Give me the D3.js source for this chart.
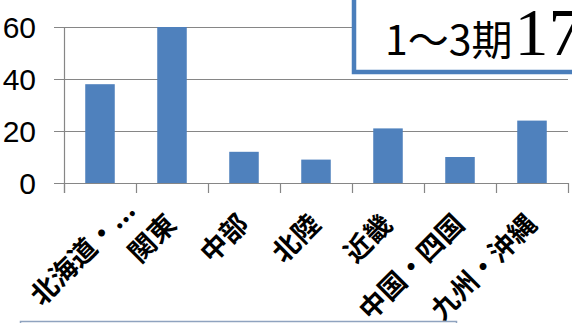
<!DOCTYPE html>
<html><head><meta charset="utf-8">
<script src="https://cdn.jsdelivr.net/npm/d3@7"></script>
<style>html,body{margin:0;padding:0;background:#fff;overflow:hidden}</style>
</head><body>
<svg id="chart" width="572" height="323"></svg>
<script>
const categories = ["北海道・...", "関東", "中部", "北陸", "近畿", "中国・四国", "九州・沖縄"];
const values = [38, 60, 12, 9, 21, 10, 24];
const yTicks = [0, 20, 40, 60];
const titleSmall = "1～3期";
const titleBig = "17";

const svg = d3.select("#chart");
const W = 572, H = 323;
const plot = {left: 64, right: 568, top: 27, bottom: 183};
const grid = "#868686";
const barColor = "#4F81BD";

const x = d3.scaleBand().domain(categories).range([plot.left, plot.right]).padding(0);
const y = d3.scaleLinear().domain([0, 60]).range([plot.bottom, plot.top]);

svg.append("rect").attr("width", W).attr("height", H).attr("fill", "#fff");

// gridlines with left tick marks
svg.append("g").selectAll("line").data(yTicks).join("line")
  .attr("x1", plot.left - 10).attr("x2", plot.right)
  .attr("y1", d => Math.round(y(d)) + 0.5).attr("y2", d => Math.round(y(d)) + 0.5)
  .attr("stroke", grid).attr("stroke-width", 1.2);

// y axis line
svg.append("line").attr("x1", plot.left + 0.5).attr("x2", plot.left + 0.5)
  .attr("y1", plot.top).attr("y2", plot.bottom + 10)
  .attr("stroke", grid).attr("stroke-width", 1.2);

// x ticks at band boundaries
const bounds = categories.map(c => x(c)).concat([x(categories[categories.length - 1]) + x.bandwidth()]);
svg.append("g").selectAll("line").data(bounds).join("line")
  .attr("x1", d => Math.round(d) + 0.5).attr("x2", d => Math.round(d) + 0.5)
  .attr("y1", plot.bottom).attr("y2", plot.bottom + 10)
  .attr("stroke", grid).attr("stroke-width", 1.2);

// bars
const bw = x.bandwidth() * 0.41;
svg.append("g").selectAll("rect").data(values).join("rect")
  .attr("x", (d, i) => x(categories[i]) + x.bandwidth() / 2 - bw / 2)
  .attr("width", bw)
  .attr("y", d => y(d))
  .attr("height", d => y(0) - y(d))
  .attr("fill", barColor);

// y labels
svg.append("g").selectAll("text").data(yTicks).join("text")
  .attr("x", 36).attr("y", d => y(d) + 10.5)
  .attr("text-anchor", "end")
  .attr("font-family", "Liberation Sans, Arial, sans-serif")
  .attr("font-size", 30).attr("fill", "#000")
  .text(d => d);

// x labels rotated
const labY = 226;
const lab = svg.append("g").selectAll("text").data(categories).join("text")
  .attr("text-anchor", "end")
  .attr("font-family", "Noto Sans CJK JP, sans-serif")
  .attr("font-weight", "bold")
  .attr("font-size", 27).attr("fill", "#000")
  .attr("transform", d => `translate(${x(d) + x.bandwidth() / 2 + 6},${labY}) rotate(-45)`)
  .text(d => d);
// a label overflowing the left edge is moved back inside (as the original does)
lab.each(function(d) {
  const r = this.getBoundingClientRect();
  if (r.left < 20) {
    const dx = 20 - r.left;
    const dy = (plot.bottom + 7) - r.top;
    d3.select(this).attr("transform",
      `translate(${x(d) + x.bandwidth() / 2 + 6 + dx},${labY + dy}) rotate(-45)`);
  }
});

// title box (upper right)
svg.append("rect").attr("x", 354).attr("y", -10).attr("width", 240).attr("height", 82)
  .attr("fill", "#fff").attr("stroke", "#4A7EBB").attr("stroke-width", 4.5);
const t = svg.append("text").attr("x", 385).attr("y", 55)
  .attr("font-family", "Noto Sans CJK JP, sans-serif").attr("font-size", 41).attr("fill", "#000");
t.append("tspan").text(titleSmall);
t.append("tspan").attr("font-family", "Liberation Serif, serif").attr("font-size", 68)
  .attr("dx", 2).text(titleBig);

// bottom box
svg.append("rect").attr("x", 20.5).attr("y", 321.5).attr("width", 436).attr("height", 20)
  .attr("fill", "#fff").attr("stroke", "#8FA3BF").attr("stroke-width", 1.5);
</script>
</body></html>
